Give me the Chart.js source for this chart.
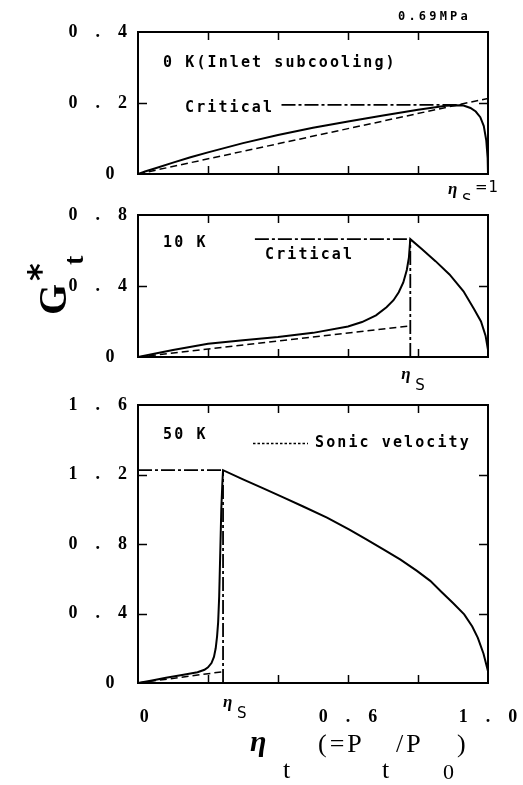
<!DOCTYPE html>
<html><head><meta charset="utf-8">
<script src="https://cdn.jsdelivr.net/npm/chart.js@4.4.0/dist/chart.umd.min.js"></script>
<style>
html,body{margin:0;padding:0;background:#fff;width:523px;height:785px;overflow:hidden}
.c{position:absolute;left:0;width:523px}
</style></head><body>
<div class="c" style="top:0;height:200px"><canvas id="c1"></canvas></div>
<div class="c" style="top:200px;height:190px"><canvas id="c2"></canvas></div>
<div class="c" style="top:390px;height:395px"><canvas id="c3"></canvas></div>
<script>
// ---------- data ----------
const xTicks = [0, 0.2, 0.4, 0.6, 0.8, 1.0];
const xTickLabels = ['\u2002\u20090', '', '', '0\u2003.\u20036', '', '1\u2003.\u20030'];

const p1YTicks = [0, 0.2, 0.4];
const p1YLabels = ['0\u2002\u2009', '0\u2003.\u20032', '0\u2003.\u20034'];
const p2YTicks = [0, 0.4, 0.8];
const p2YLabels = ['0\u2002\u2009', '0\u2003.\u20034', '0\u2003.\u20038'];
const p3YTicks = [0, 0.4, 0.8, 1.2, 1.6];
const p3YLabels = ['0\u2002\u2009', '0\u2003.\u20034', '0\u2003.\u20038', '1\u2003.\u20032', '1\u2003.\u20036'];

// Panel 1: 0 K
const p1SolidX = [0, 0.02, 0.05, 0.1, 0.15, 0.2, 0.3, 0.4, 0.5, 0.6, 0.7, 0.8, 0.85, 0.88, 0.91, 0.93, 0.95, 0.965, 0.978, 0.988, 0.995, 0.999, 1.0];
const p1SolidY = [0, 0.007, 0.016, 0.032, 0.047, 0.061, 0.087, 0.110, 0.130, 0.148, 0.165, 0.181, 0.188, 0.192, 0.194, 0.193, 0.186, 0.176, 0.160, 0.135, 0.095, 0.045, 0];
const p1SonicX = [0, 1.0];
const p1SonicY = [0, 0.213];
const p1CritX = [0.41, 0.93];
const p1CritY = [0.195, 0.195];

// Panel 2: 10 K
const p2SolidX = [0, 0.05, 0.1, 0.2, 0.3, 0.4, 0.5, 0.6, 0.64, 0.68, 0.71, 0.73, 0.745, 0.758, 0.768, 0.774, 0.778, 0.81, 0.85, 0.89, 0.93, 0.96, 0.98, 0.993, 1.0];
const p2SolidY = [0, 0.02, 0.04, 0.075, 0.095, 0.113, 0.136, 0.172, 0.197, 0.235, 0.28, 0.32, 0.365, 0.42, 0.49, 0.56, 0.664, 0.61, 0.54, 0.465, 0.37, 0.27, 0.2, 0.12, 0.04];
const p2SonicX = [0, 0.778];
const p2SonicY = [0, 0.175];
const p2CritHX = [0.334, 0.778];
const p2CritHY = [0.664, 0.664];
const p2CritVX = [0.778, 0.778];
const p2CritVY = [0, 0.664];

// Panel 3: 50 K
const p3SolidX = [0, 0.04, 0.08, 0.13, 0.17, 0.19, 0.2, 0.21, 0.217, 0.222, 0.226, 0.229, 0.232, 0.235, 0.238, 0.241, 0.243, 0.3, 0.358, 0.415, 0.472, 0.54, 0.604, 0.65, 0.701, 0.75, 0.797, 0.835, 0.868, 0.9, 0.932, 0.955, 0.971, 0.987, 1.0];
const p3SolidY = [0, 0.015, 0.03, 0.047, 0.062, 0.076, 0.09, 0.115, 0.15, 0.2, 0.27, 0.35, 0.5, 0.75, 1.0, 1.15, 1.225, 1.172, 1.12, 1.068, 1.016, 0.952, 0.883, 0.83, 0.769, 0.71, 0.645, 0.588, 0.522, 0.46, 0.395, 0.325, 0.26, 0.17, 0.068];
const p3SonicX = [0, 0.243];
const p3SonicY = [0, 0.065];
const p3CritHX = [0, 0.243];
const p3CritHY = [1.225, 1.225];
const p3CritVX = [0.243, 0.243];
const p3CritVY = [0, 1.225];
const etaS3 = 0.243;
const etaS2 = 0.778;

// ---------- helpers ----------
const pts = (xs, ys) => xs.map((x, i) => ({x, y: ys[i]}));
const SOLID = {borderColor:'#000', borderWidth:2, borderDash:[]};
const SONIC = {borderColor:'#000', borderWidth:1.5, borderDash:[7,4]};
const CRIT  = {borderColor:'#000', borderWidth:1.8, borderDash:[14,3,3,3]};
function ds(xs, ys, style){
  return Object.assign({data: pts(xs, ys), showLine:true, pointRadius:0, tension:0, fill:false}, style);
}
const MONO = 'bold 15px "DejaVu Sans Mono", "Liberation Mono", monospace';
function txt(ctx, s, x, y, font, spacing, align){
  ctx.save();
  ctx.font = font;
  ctx.fillStyle = '#000';
  ctx.textBaseline = 'middle';
  ctx.textAlign = align || 'left';
  try { ctx.letterSpacing = (spacing||0) + 'px'; } catch(e){}
  ctx.fillText(s, x, y);
  ctx.restore();
}
function etaSub(ctx, x, y, sub){
  txt(ctx, '\u03B7', x, y, 'bold italic 17px "Liberation Serif", serif', 0);
  txt(ctx, sub, x + 14, y + 11, '15px "DejaVu Sans", sans-serif', 0);
}

function framePlugin(yTicks, extra){
  return {
    id:'frame',
    afterDatasetsDraw(chart){
      const {ctx, chartArea:a, scales:{x, y}} = chart;
      ctx.save();
      ctx.strokeStyle = '#000';
      ctx.setLineDash([]);
      ctx.lineWidth = 1.5;
      ctx.beginPath();
      xTicks.slice(1, -1).forEach(v => {
        const px = Math.round(x.getPixelForValue(v)) + 0.5;
        ctx.moveTo(px, a.top); ctx.lineTo(px, a.top + 8);
        ctx.moveTo(px, a.bottom); ctx.lineTo(px, a.bottom - 8);
      });
      yTicks.slice(1, -1).forEach(v => {
        const py = Math.round(y.getPixelForValue(v)) + 0.5;
        ctx.moveTo(a.left, py); ctx.lineTo(a.left + 9, py);
        ctx.moveTo(a.right, py); ctx.lineTo(a.right - 9, py);
      });
      ctx.stroke();
      ctx.lineWidth = 2;
      ctx.strokeRect(a.left, a.top, a.right - a.left, a.bottom - a.top);
      ctx.restore();
      if (extra) extra(chart);
    }
  };
}

function makeChart(id, datasets, yMax, yStep, yTicks, yLabels, pad, showX, extra){
  return new Chart(document.getElementById(id), {
    type:'scatter',
    data:{datasets},
    options:{
      responsive:true, maintainAspectRatio:false, animation:false, devicePixelRatio:1,
      layout:{padding:pad},
      plugins:{legend:{display:false}, tooltip:{enabled:false}},
      scales:{
        x:{
          type:'linear', min:0, max:1,
          display: showX,
          grid:{display:false}, border:{display:false},
          ticks:{
            stepSize:0.2, padding:16, color:'#000', maxRotation:0, autoSkip:false,
            font:{family:'"Liberation Serif", serif', size:18, weight:'bold'},
            callback:(v)=>{ const i = xTicks.findIndex(t => Math.abs(t - v) < 1e-6); return i < 0 ? '' : xTickLabels[i]; }
          },
          afterFit:(s)=>{ s.height = showX ? 40 : 0; s.paddingLeft = 0; s.paddingRight = 0; }
        },
        y:{
          type:'linear', min:0, max:yMax,
          grid:{display:false}, border:{display:false},
          ticks:{
            stepSize:yStep, padding:3, color:'#000',
            font:{family:'"Liberation Serif", serif', size:18, weight:'bold'},
            callback:(v)=>{ const i = yTicks.findIndex(t => Math.abs(t - v) < 1e-6); return i < 0 ? '' : yLabels[i]; }
          },
          afterFit:(s)=>{ s.width = 138; s.paddingTop = 0; s.paddingBottom = 0; }
        }
      }
    },
    plugins:[framePlugin(yTicks, extra)]
  });
}

// Panel 1
makeChart('c1', [
  ds(p1CritX, p1CritY, CRIT),
  ds(p1SonicX, p1SonicY, SONIC),
  ds(p1SolidX, p1SolidY, SOLID)
], 0.4, 0.2, p1YTicks, p1YLabels, {left:0, right:35, top:32, bottom:26}, false, (chart)=>{
  const ctx = chart.ctx;
  txt(ctx, '0.69MPa', 398, 17, 'bold 12px "DejaVu Sans Mono", monospace', 3.2);
  txt(ctx, '0 K(Inlet subcooling)', 163, 63, MONO, 2.1);
  txt(ctx, 'Critical', 185, 108, MONO, 2.1);
  etaSub(ctx, 448, 190, 'S');
  txt(ctx, '=1', 475, 188, '15px "DejaVu Sans", sans-serif', 1);
});

// Panel 2
makeChart('c2', [
  ds(p2CritHX, p2CritHY, CRIT),
  ds(p2CritVX, p2CritVY, CRIT),
  ds(p2SonicX, p2SonicY, SONIC),
  ds(p2SolidX, p2SolidY, SOLID)
], 0.8, 0.4, p2YTicks, p2YLabels, {left:0, right:35, top:15, bottom:33}, false, (chart)=>{
  const ctx = chart.ctx;
  txt(ctx, '10 K', 163, 43, MONO, 2.1);
  txt(ctx, 'Critical', 265, 55, MONO, 2.1);
  const px = chart.scales.x.getPixelForValue(etaS2);
  etaSub(ctx, px - 9, 175, 'S');
  // y axis title G*t (rotated)
  ctx.save();
  ctx.translate(66, 115);
  ctx.rotate(-Math.PI/2);
  ctx.fillStyle = '#000';
  ctx.textBaseline = 'alphabetic';
  ctx.font = 'bold 40px "Liberation Serif", serif';
  ctx.fillText('G', 0, 0);
  ctx.font = 'bold 28px "Liberation Serif", serif';
  ctx.fillText('t', 50, 17);
  ctx.font = 'bold 34px "DejaVu Sans", sans-serif';
  ctx.fillText('*', 34, -14);
  ctx.restore();
});

// Panel 3
makeChart('c3', [
  ds(p3CritHX, p3CritHY, CRIT),
  ds(p3CritVX, p3CritVY, CRIT),
  ds(p3SonicX, p3SonicY, SONIC),
  ds(p3SolidX, p3SolidY, SOLID)
], 1.6, 0.4, p3YTicks, p3YLabels, {left:0, right:35, top:15, bottom:62}, true, (chart)=>{
  const ctx = chart.ctx;
  txt(ctx, '50 K', 163, 45, MONO, 2.1);
  ctx.save();
  ctx.strokeStyle = '#000'; ctx.lineWidth = 1.3; ctx.setLineDash([2.5,2]);
  ctx.beginPath(); ctx.moveTo(253, 53.5); ctx.lineTo(308, 53.5); ctx.stroke();
  ctx.restore();
  txt(ctx, 'Sonic velocity', 315, 53, MONO, 2.1);
  const px = chart.scales.x.getPixelForValue(etaS3);
  etaSub(ctx, px, 313, 'S');
  // x axis title
  txt(ctx, '\u03B7', 250, 353, 'bold italic 30px "Liberation Serif", serif', 0);
  txt(ctx, 't', 283, 381, '26px "Liberation Serif", serif', 0);
  txt(ctx, '(=P', 318, 355, '26px "Liberation Serif", serif', 3);
  txt(ctx, 't', 382, 381, '26px "Liberation Serif", serif', 0);
  txt(ctx, '/P', 396, 355, '26px "Liberation Serif", serif', 3);
  txt(ctx, '0', 443, 383, '22px "Liberation Serif", serif', 0);
  txt(ctx, ')', 457, 355, '26px "Liberation Serif", serif', 0);
});
</script>
</body></html>
